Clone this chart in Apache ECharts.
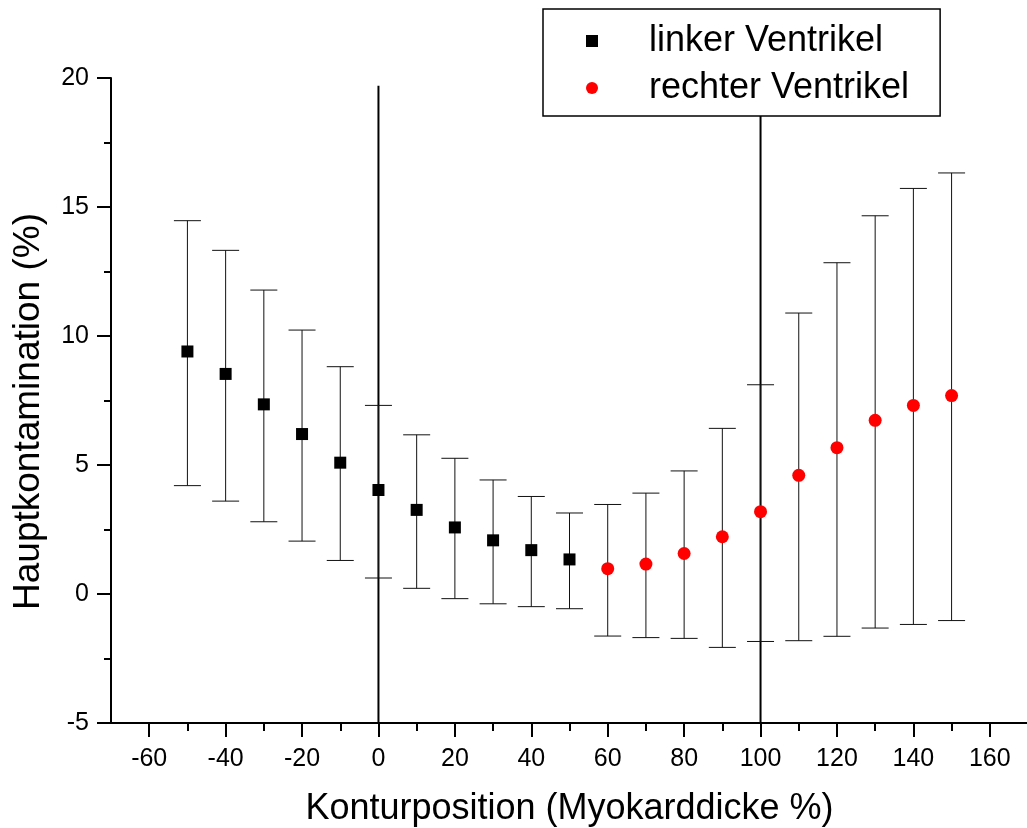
<!DOCTYPE html>
<html>
<head>
<meta charset="utf-8">
<script src="https://cdn.jsdelivr.net/npm/echarts@6/dist/echarts.min.js"></script>
<style>
html,body{margin:0;padding:0;background:#fff;}
#chart{width:1027px;height:828px;}
</style>
</head>
<body>
<div id="chart"></div>
<script>
// ---- data ----
var linkerX = [-50, -40, -30, -20, -10, 0, 10, 20, 30, 40, 50];
var linkerMean = [9.40, 8.53, 7.35, 6.20, 5.09, 4.03, 3.26, 2.58, 2.08, 1.70, 1.34];
var linkerUpper = [14.47, 13.32, 11.78, 10.23, 8.81, 7.31, 6.17, 5.26, 4.42, 3.78, 3.14];
var linkerLower = [4.20, 3.60, 2.80, 2.05, 1.30, 0.62, 0.22, -0.18, -0.38, -0.49, -0.57];

var rechterX = [60, 70, 80, 90, 100, 110, 120, 130, 140, 150];
var rechterMean = [0.98, 1.16, 1.57, 2.22, 3.19, 4.60, 5.67, 6.73, 7.31, 7.69];
var rechterUpper = [3.47, 3.91, 4.77, 6.42, 8.11, 10.89, 12.84, 14.66, 15.72, 16.32];
var rechterLower = [-1.63, -1.69, -1.72, -2.07, -1.84, -1.81, -1.64, -1.32, -1.18, -1.03];

var refLineX = [0, 100];
var refLineBottom = -5;
var refLineTop = 19.7;

var xMajorTicks = [-60, -40, -20, 0, 20, 40, 60, 80, 100, 120, 140, 160];
var yTickLabels = [-5, 0, 5, 10, 15, 20];

var seriesNames = ['linker Ventrikel', 'rechter Ventrikel'];

// ---- build ----
function zip(xs, ys) { return xs.map(function (x, i) { return [x, ys[i]]; }); }
function errData(xs, lo, hi) { return xs.map(function (x, i) { return [x, lo[i], hi[i]]; }); }

var FONT = '"Liberation Sans", Arial, Helvetica, sans-serif';
var capHalf = 13.5;

function errorBarRender(params, api) {
  var x = api.value(0), lo = api.value(1), hi = api.value(2);
  var pLo = api.coord([x, lo]);
  var pHi = api.coord([x, hi]);
  var st = { stroke: '#111', lineWidth: 1 };
  return {
    type: 'group',
    children: [
      { type: 'line', shape: { x1: pLo[0], y1: pLo[1], x2: pHi[0], y2: pHi[1] }, style: st },
      { type: 'line', shape: { x1: pLo[0] - capHalf, y1: pLo[1], x2: pLo[0] + capHalf, y2: pLo[1] }, style: st },
      { type: 'line', shape: { x1: pHi[0] - capHalf, y1: pHi[1], x2: pHi[0] + capHalf, y2: pHi[1] }, style: st }
    ]
  };
}

var refLines = refLineX.map(function (x) {
  return {
    type: 'line',
    data: [[x, refLineBottom], [x, refLineTop]],
    symbol: 'none',
    silent: true,
    lineStyle: { color: '#000', width: 2 },
    z: 1,
    animation: false
  };
});

var chart = echarts.init(document.getElementById('chart'), null, { renderer: 'canvas' });

var option = {
  animation: false,
  backgroundColor: '#fff',
  textStyle: { fontFamily: FONT, color: '#000' },
  grid: { left: 111, right: -1, top: 78, bottom: 105, containLabel: false, outerBoundsMode: 'none' },
  legend: {
    orient: 'vertical',
    left: 543,
    top: 9,
    padding: [12, 31, 8, 43],
    itemGap: 7,
    itemWidth: 12,
    itemHeight: 12,
    borderColor: '#000',
    borderWidth: 1.5,
    backgroundColor: '#fff',
    z: 10,
    data: [
      { name: seriesNames[0], icon: 'rect' },
      { name: seriesNames[1], icon: 'circle' }
    ],
    textStyle: { fontFamily: FONT, fontSize: 36, lineHeight: 40, color: '#000', padding: [0, 0, 0, 46] }
  },
  xAxis: [
    {
      type: 'value',
      min: -70,
      max: 170,
      interval: 10,
      name: 'Konturposition (Myokarddicke %)',
      nameLocation: 'middle',
      nameGap: 68,
      nameTextStyle: { fontFamily: FONT, fontSize: 36, color: '#000' },
      axisLine: { show: true, onZero: false, lineStyle: { color: '#000', width: 2 } },
      axisTick: { show: true, inside: false, length: 8, lineStyle: { color: '#000', width: 2 } },
      axisLabel: {
        show: true,
        margin: 24,
        fontFamily: FONT,
        fontSize: 25,
        color: '#000',
        showMinLabel: false,
        showMaxLabel: false,
        formatter: function (v) { return (Math.round(v) % 20 === 0) ? String(Math.round(v)) : ''; }
      },
      splitLine: { show: false }
    },
    {
      type: 'value',
      min: -70,
      max: 170,
      position: 'bottom',
      offset: 0,
      axisLine: { show: false, onZero: false },
      axisTick: { show: true, length: 14, customValues: xMajorTicks, lineStyle: { color: '#000', width: 2 } },
      axisLabel: { show: false },
      splitLine: { show: false }
    }
  ],
  yAxis: {
    type: 'value',
    min: -5,
    max: 20,
    interval: 5,
    name: 'Hauptkontamination (%)',
    nameLocation: 'middle',
    nameGap: 64,
    nameRotate: 90,
    nameTextStyle: { fontFamily: FONT, fontSize: 37, color: '#000', padding: [0, 22, 0, 0] },
    axisLine: { show: true, onZero: false, lineStyle: { color: '#000', width: 2 } },
    axisTick: { show: true, length: 14, lineStyle: { color: '#000', width: 2 } },
    minorTick: { show: true, splitNumber: 2, length: 7, lineStyle: { color: '#000', width: 2 } },
    axisLabel: {
      margin: 22,
      fontFamily: FONT,
      fontSize: 25,
      color: '#000',
      customValues: yTickLabels
    },
    splitLine: { show: false },
    minorSplitLine: { show: false }
  },
  series: refLines.concat([
    {
      type: 'custom',
      name: 'errL',
      renderItem: errorBarRender,
      data: errData(linkerX, linkerLower, linkerUpper),
      encode: { x: 0, y: [1, 2] },
      clip: false,
      silent: true,
      z: 2
    },
    {
      type: 'custom',
      name: 'errR',
      renderItem: errorBarRender,
      data: errData(rechterX, rechterLower, rechterUpper),
      encode: { x: 0, y: [1, 2] },
      clip: false,
      silent: true,
      z: 2
    },
    {
      type: 'scatter',
      name: seriesNames[0],
      data: zip(linkerX, linkerMean),
      symbol: 'rect',
      symbolSize: 12,
      itemStyle: { color: '#000', opacity: 1 },
      z: 3
    },
    {
      type: 'scatter',
      name: seriesNames[1],
      data: zip(rechterX, rechterMean),
      symbol: 'circle',
      symbolSize: 13,
      itemStyle: { color: '#ff0000', opacity: 1 },
      z: 3
    }
  ])
};

chart.setOption(option);
</script>
</body>
</html>
